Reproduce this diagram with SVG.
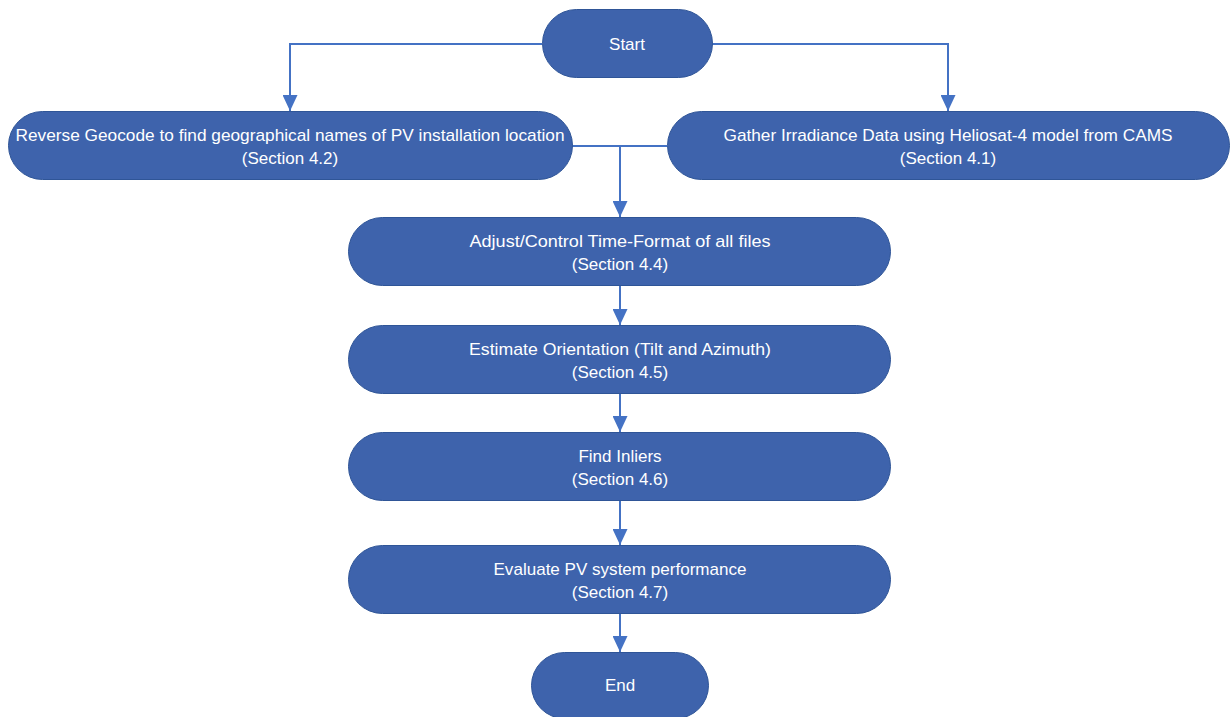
<svg xmlns="http://www.w3.org/2000/svg" width="1231" height="717" viewBox="0 0 1231 717">
<style>
.node rect{fill:#3E63AC;stroke:#2F5597;stroke-width:1}
.node text{fill:#FFFFFF;font-family:"Liberation Sans","Noto Sans",Arial,sans-serif;font-size:17px;text-anchor:middle}
.conn path{fill:none;stroke:#4472C4;stroke-width:2}
</style>
<defs>
<marker id="arr" markerUnits="userSpaceOnUse" viewBox="0 0 16 15" markerWidth="16" markerHeight="15" refX="16" refY="7.5" orient="auto">
<path d="M0,0 L16,7.5 L0,15 z" fill="#4472C4"/>
</marker>
</defs>
<rect width="1231" height="717" fill="#FFFFFF"/>
<g class="conn" id="connectors">
<path d="M542,44 H290 V111" marker-end="url(#arr)"/>
<path d="M712,44 H948 V111" marker-end="url(#arr)"/>
<path d="M572,146 H620 V217" marker-end="url(#arr)"/>
<path d="M667,146 H620"/>
<path d="M620,285 V325" marker-end="url(#arr)"/>
<path d="M620,393 V432" marker-end="url(#arr)"/>
<path d="M620,500 V545" marker-end="url(#arr)"/>
<path d="M620,613 V652" marker-end="url(#arr)"/>
</g>
<g class="node" id="start">
<rect x="542.5" y="9.5" width="170" height="68" rx="34" ry="34"/>
<text x="627" y="50">Start</text>
</g>
<g class="node" id="reverse-geocode">
<rect x="8.5" y="111.5" width="564" height="68" rx="34" ry="34"/>
<text x="290" y="141" textLength="549" lengthAdjust="spacingAndGlyphs">Reverse Geocode to find geographical names of PV installation location</text>
<text x="290" y="164">(Section 4.2)</text>
</g>
<g class="node" id="gather-irradiance">
<rect x="667.5" y="111.5" width="562" height="68" rx="34" ry="34"/>
<text x="948" y="141" textLength="449" lengthAdjust="spacingAndGlyphs">Gather Irradiance Data using Heliosat-4 model from CAMS</text>
<text x="948" y="164">(Section 4.1)</text>
</g>
<g class="node" id="adjust-time">
<rect x="348.5" y="217.5" width="542" height="68" rx="34" ry="34"/>
<text x="620" y="247" textLength="301" lengthAdjust="spacingAndGlyphs">Adjust/Control Time-Format of all files</text>
<text x="620" y="270">(Section 4.4)</text>
</g>
<g class="node" id="estimate-orientation">
<rect x="348.5" y="325.5" width="542" height="68" rx="34" ry="34"/>
<text x="620" y="355" textLength="302" lengthAdjust="spacingAndGlyphs">Estimate Orientation (Tilt and Azimuth)</text>
<text x="620" y="378">(Section 4.5)</text>
</g>
<g class="node" id="find-inliers">
<rect x="348.5" y="432.5" width="542" height="68" rx="34" ry="34"/>
<text x="620" y="462">Find Inliers</text>
<text x="620" y="485">(Section 4.6)</text>
</g>
<g class="node" id="evaluate-pv">
<rect x="348.5" y="545.5" width="542" height="68" rx="34" ry="34"/>
<text x="620" y="575" textLength="253" lengthAdjust="spacingAndGlyphs">Evaluate PV system performance</text>
<text x="620" y="598">(Section 4.7)</text>
</g>
<g class="node" id="end">
<rect x="531.5" y="652.5" width="177" height="66" rx="33" ry="33"/>
<text x="620" y="691">End</text>
</g>
</svg>
